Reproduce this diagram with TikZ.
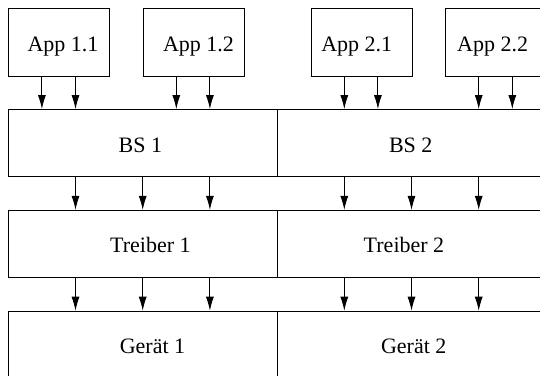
\documentclass[tikz,border=0pt]{standalone}
\usepackage{fontspec}
\setmainfont{Liberation Serif}
\usetikzlibrary{arrows.meta}
\begin{document}
\begin{tikzpicture}[x=33.6pt,y=-33.6pt,
  box/.style={draw, line width=0.9pt, rectangle, inner sep=0pt, anchor=north west,
    text height=21pt, text depth=3pt, font=\fontsize{22}{26}\selectfont},
  % moves the label sideways by half the given amount
  tx/.style={execute at begin node={\hspace*{#1}}},
  app/.style={box, minimum width=100.8pt, minimum height=67.2pt},
  layer/.style={box, minimum width=268.8pt, minimum height=67.2pt},
  arr/.style={-{Latex[length=14pt,width=8pt]}, line width=0.9pt}]
  \useasboundingbox (-0.247,-0.247) rectangle (15.824,10.943);
  \clip (-0.247,-0.247) rectangle (15.824,10.943);
  % applications
  \node[app, tx=7.6pt]  (a11) at (0,0)  {App 1.1};
  \node[app, tx=10pt]   (a12) at (4,0)  {App 1.2};
  \node[app, tx=-9.6pt] (a21) at (9,0)  {App 2.1};
  \node[app, tx=-6.6pt] (a22) at (13,0) {App 2.2};
  % operating systems, drivers, devices
  \node[layer, tx=-5.4pt]  (bs1) at (0,3) {BS 1};
  \node[layer, tx=-2.4pt]  (bs2) at (8,3) {BS 2};
  \node[layer, tx=14.6pt]  (tr1) at (0,6) {Treiber 1};
  \node[layer, tx=-16pt]   (tr2) at (8,6) {Treiber 2};
  \node[layer, tx=18.6pt]  (ge1) at (0,9) {Gerät 1};
  \node[layer, tx=3.6pt]   (ge2) at (8,9) {Gerät 2};
  % application calls
  \foreach \a/\b in {a11/bs1, a12/bs1, a21/bs2, a22/bs2}
    \foreach \k in {1,2}
      \draw[arr] ([xshift=\k*33.6pt]\a.south west) -- ([xshift=\k*33.6pt]\a.south west |- \b.north);
  % layer calls
  \foreach \a/\b in {bs1/tr1, bs2/tr2, tr1/ge1, tr2/ge2}
    \foreach \k in {2,4,6}
      \draw[arr] ([xshift=\k*33.6pt]\a.south west) -- ([xshift=\k*33.6pt]\a.south west |- \b.north);
\end{tikzpicture}
\end{document}
